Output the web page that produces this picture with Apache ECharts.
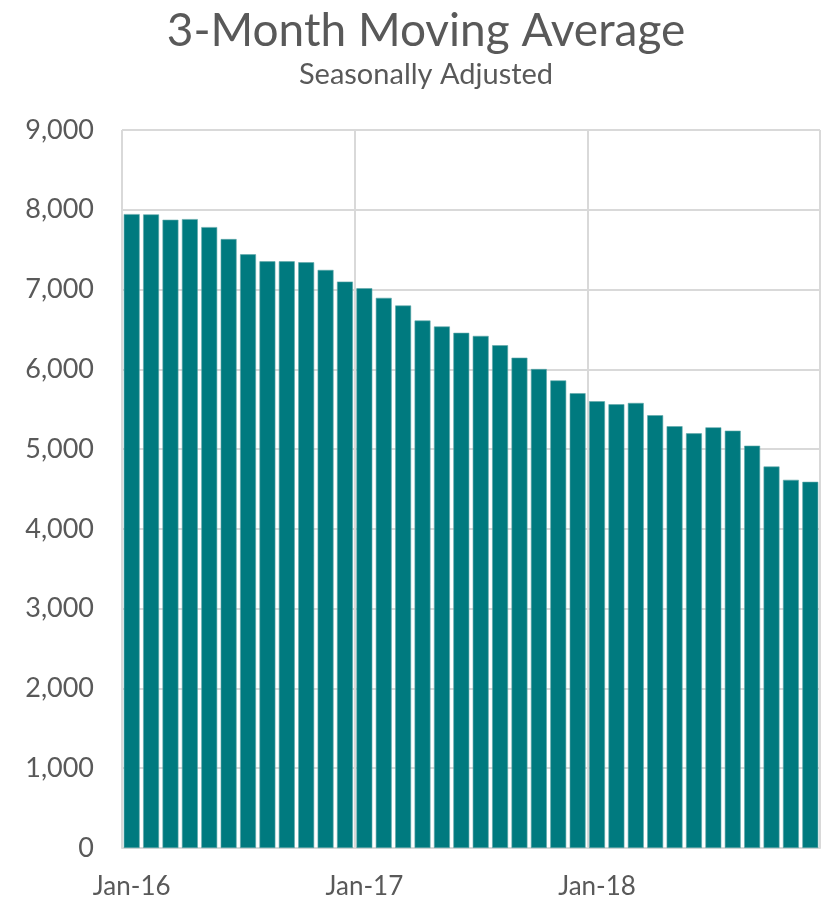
<!DOCTYPE html>
<html><head><meta charset="utf-8">
<script src="https://cdn.jsdelivr.net/npm/echarts@6/dist/echarts.min.js"></script>
<style>html,body{margin:0;padding:0;background:#fff}#c{width:825px;height:904px}</style>
</head><body><div id="c"></div>
<script>
const months = ['Jan','Feb','Mar','Apr','May','Jun','Jul','Aug','Sep','Oct','Nov','Dec'];
const years = ['16','17','18'];
const categories = [];
years.forEach(y => months.forEach(m => categories.push(m + '-' + y)));
const values = [
  7946, 7942, 7875, 7883, 7783, 7633, 7442, 7354, 7354, 7342, 7246, 7100,
  7017, 6896, 6800, 6612, 6537, 6458, 6419, 6302, 6146, 6004, 5861, 5701,
  5600, 5562, 5579, 5425, 5287, 5198, 5273, 5231, 5043, 4782, 4615, 4590
];
const titleText = '3-Month Moving Average';
const subtitleText = 'Seasonally Adjusted';

const chart = echarts.init(document.getElementById('c'));
const FONT = 'Lato';
chart.setOption({
  animation: false,
  backgroundColor: '#fff',
  graphic: [{
    type: 'text', x: 426, y: 8,
    style: {text: titleText, align: 'center', verticalAlign: 'top', fontFamily: FONT, fontSize: 46, fill: '#595959'}
  }, {
    type: 'text', x: 426, y: 60,
    style: {text: subtitleText, align: 'center', verticalAlign: 'top', fontFamily: FONT, fontSize: 29, fill: '#595959'}
  }],
  grid: {left: 122, right: 5, top: 130, bottom: 56},
  xAxis: {
    type: 'category', data: categories,
    axisLine: {show: true, lineStyle: {color: '#d9d9d9', width: 2}},
    axisTick: {show: false},
    axisLabel: {interval: 11, fontFamily: FONT, fontSize: 26, color: '#595959', margin: 26},
    splitLine: {show: true, interval: 11, lineStyle: {color: '#d9d9d9', width: 2}}
  },
  yAxis: {
    type: 'value', min: 0, max: 9000, interval: 1000,
    axisLine: {show: false}, axisTick: {show: false},
    axisLabel: {fontFamily: FONT, fontSize: 27, color: '#595959', margin: 28,
      formatter: v => v.toLocaleString('en-US')},
    splitLine: {lineStyle: {color: '#d9d9d9', width: 2}}
  },
  series: [{
    type: 'bar', data: values, barCategoryGap: '18%',
    itemStyle: {color: '#007A7F', borderColor: '#5fa8aa', borderWidth: 0.6}
  }]
});
</script></body></html>
